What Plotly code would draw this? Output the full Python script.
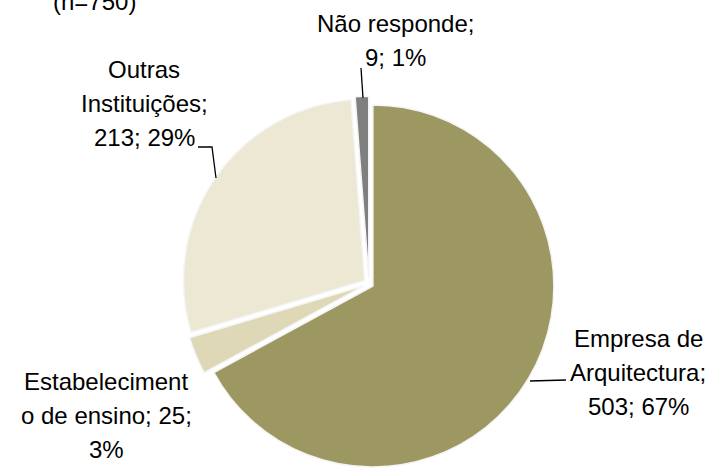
import plotly.graph_objects as go

# ---- data ----
categories = ["Empresa de Arquitectura", "Estabelecimento de ensino", "Outras Instituições", "Não responde"]
values = [503, 25, 213, 9]
pct_labels = [67, 3, 29, 1]          # percentages as printed on the chart
n_total = 750
colors = ["#9D9761", "#DED8B6", "#ECE8D3", "#7F7F7F"]
pulls = [0.025, 0.035, 0.03, 0.035]

W, H = 710, 471


def px(x):
    return x / W


def py(y):
    return 1 - y / H


fig = go.Figure()
fig.add_trace(go.Pie(
    labels=categories,
    values=values,
    sort=False,
    direction="clockwise",
    rotation=0,
    pull=pulls,
    marker=dict(colors=colors, line=dict(color="#F4F4F4", width=1.5)),
    textinfo="none",
    hoverinfo="label+value+percent",
    domain=dict(x=[0.25585, 0.78359], y=[0.0, 0.7955]),
    showlegend=False,
))

# label lines built from the data
label_lines = [
    ["Empresa de", "Arquitectura;", f"{values[0]}; {pct_labels[0]}%"],
    ["Estabeleciment", f"o de ensino; {values[1]};", f"{pct_labels[1]}%"],
    ["Outras", "Instituições;", f"{values[2]}; {pct_labels[2]}%"],
    ["Não responde;", f"{values[3]}; {pct_labels[3]}%"],
]
# (center x, first line center y) in pixels
label_pos = [(638, 338), (106, 381), (144, 70), (395, 24)]
line_gap = 34

font = dict(family="Liberation Sans, Arial, sans-serif", size=24, color="#000000")
annotations = []
for lines, (x, y0) in zip(label_lines, label_pos):
    for i, t in enumerate(lines):
        annotations.append(dict(
            x=px(x), y=py(y0 + i * line_gap), xref="paper", yref="paper",
            text=t, showarrow=False, xanchor="center", yanchor="middle",
            align="center", font=font,
        ))
annotations.append(dict(
    x=px(95), y=py(1.5), xref="paper", yref="paper",
    text=f"(n={n_total})", showarrow=False, xanchor="center", yanchor="middle",
    font=font,
))

# leader lines
leaders = [
    [(530, 381), (566, 380)],
    [(198, 147), (212, 147), (216, 178)],
    [(361, 68), (363, 98)],
]
shapes = []
for pts in leaders:
    path = "M " + " L ".join(f"{px(x)},{py(y)}" for x, y in pts)
    shapes.append(dict(type="path", path=path, xref="paper", yref="paper",
                       line=dict(color="#000000", width=1.3)))

fig.update_layout(
    width=W, height=H,
    margin=dict(l=0, r=0, t=0, b=0),
    paper_bgcolor="white",
    plot_bgcolor="white",
    annotations=annotations,
    shapes=shapes,
)

fig.write_html("out.html", config={"displayModeBar": False},
               post_script="document.body.style.margin='0';")
